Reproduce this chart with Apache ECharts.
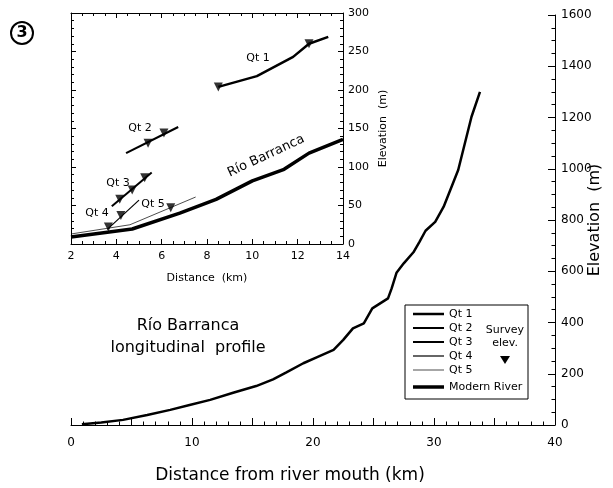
<!DOCTYPE html>
<html><head><meta charset="utf-8">
<script src="https://cdn.jsdelivr.net/npm/echarts@6/dist/echarts.min.js"></script>
<style>html,body{margin:0;padding:0;background:#fff}#c{width:613px;height:488px}</style>
</head><body><div id="c"></div>
<script>
// ---- data ----
const riverMain = [[0.9,3],[2.5,10],[4.3,20],[6.3,39],[8.2,59],[9.8,78],[11.5,98],[13.4,126],[15.3,152],[16.7,178],[17.8,205],[19.2,241],[20.3,264],[21.7,293],[22.5,332],[23.3,377],[24.2,397],[24.9,455],[26.2,494],[26.5,533],[26.9,594],[27.5,631],[28.3,674],[28.8,715],[29.3,758],[30.1,793],[30.8,852],[32.0,995],[33.1,1203],[33.8,1300]];
const riverInset = [[2,9],[4.7,19.5],[6.8,40],[8.4,58],[10.0,82],[11.4,97],[12.5,118],[14,136]];
const qt1Line = [[8.5,204],[10.2,218],[11.8,243],[12.5,260],[13.35,269]];
const qt1Survey = [[8.5,204],[12.5,260]];
const qt2Line = [[4.43,118],[6.73,152]];
const qt2Survey = [[5.4,131],[6.1,144]];
const qt3Line = [[3.8,49],[5.56,93]];
const qt3Survey = [[4.15,58],[4.7,70],[5.25,86]];
const qt4Line = [[3.6,19],[5.0,57]];
const qt4Survey = [[3.65,22],[4.2,37]];
const qt5Line = [[2,13],[4.6,25],[7.5,61]];
const qt5Survey = [[6.4,47]];
const legendNames = ['Qt 1','Qt 2','Qt 3','Qt 4','Qt 5','Modern River'];
const legendWidths = [2.5,2,2,1.2,0.7,3.5];

const FONT = 'DejaVu Sans';
const K = '#000';

function lineSeries(name, data, w, xi, yi){
  return {name, type:'line', data, xAxisIndex:xi, yAxisIndex:yi, symbol:'none', smooth:false,
    lineStyle:{color:K, width:w}, animation:false, z:8};
}
function surveySeries(name, data){
  return {name:name+' survey', type:'scatter', data, xAxisIndex:1, yAxisIndex:1, symbol:'triangle',
    symbolRotate:180, symbolSize:9, itemStyle:{color:K}, animation:false, z:9};
}
const tickStyle = (len)=>({show:true, inside:true, length:len, lineStyle:{color:K, width:1}});
const minor = (n,len)=>({show:true, splitNumber:n, length:len, lineStyle:{color:K, width:1}});
const axLine = {show:true, onZero:false, lineStyle:{color:K, width:1}};
const plain = v=>String(v);

const chart = echarts.init(document.getElementById('c'), null, {renderer:'canvas'});

// legend graphic
const rowY = [314,328,342,356,370,387];
const legendEls = [{type:'rect', shape:{x:405,y:305,width:123,height:94}, style:{fill:'#fff', stroke:K, lineWidth:1}, z:10}];
legendNames.forEach((n,i)=>{
  legendEls.push({type:'line', shape:{x1:413,y1:rowY[i],x2:444,y2:rowY[i]}, style:{stroke:K, lineWidth:legendWidths[i]}, z:11});
  legendEls.push({type:'text', x:449, y:rowY[i], style:{text:n, fontFamily:FONT, fontSize:11, fill:K, textVerticalAlign:'middle'}, z:11});
});
legendEls.push({type:'text', x:505, y:330, style:{text:'Survey', fontFamily:FONT, fontSize:11, fill:K, textAlign:'center', textVerticalAlign:'middle'}, z:11});
legendEls.push({type:'text', x:505, y:343, style:{text:'elev.', fontFamily:FONT, fontSize:11, fill:K, textAlign:'center', textVerticalAlign:'middle'}, z:11});
legendEls.push({type:'polygon', shape:{points:[[500,356],[510,356],[505,364]]}, style:{fill:K}, z:11});

const txt = (s,x,y,size,extra)=>Object.assign({type:'text', x, y, style:{text:s, fontFamily:FONT, fontSize:size, fill:K, textAlign:'center', textVerticalAlign:'middle'}, z:12}, extra||{});

chart.setOption({
  backgroundColor:'#fff',
  animation:false,
  grid:[
    {left:71, right:58, top:15, bottom:63, show:false, containLabel:false, outerBoundsMode:'none'},
    {left:71, right:270, top:13, bottom:244, show:true, backgroundColor:'#fff', borderWidth:0, z:5, containLabel:false, outerBoundsMode:'none'}
  ],
  xAxis:[
    {gridIndex:0, type:'value', min:0, max:40, interval:5, position:'bottom', axisLine:axLine,
     axisTick:tickStyle(7), minorTick:minor(5,3.5), splitLine:{show:false}, minorSplitLine:{show:false},
     axisLabel:{color:K, fontFamily:FONT, fontSize:12, margin:12, formatter:v=>(v%10===0?String(v):'')},
     name:'Distance from river mouth (km)', nameLocation:'middle', nameGap:42, nameMoveOverlap:false,
     nameTextStyle:{color:K, fontFamily:FONT, fontSize:17, padding:[0,46,0,0]}},
    {gridIndex:1, type:'value', min:2, max:14, interval:2, position:'bottom', axisLine:axLine,
     axisTick:tickStyle(5), minorTick:minor(4,3), splitLine:{show:false},
     axisLabel:{color:K, fontFamily:FONT, fontSize:11, margin:7, formatter:plain},
     name:'Distance  (km)', nameLocation:'middle', nameGap:29, nameMoveOverlap:false,
     nameTextStyle:{color:K, fontFamily:FONT, fontSize:11}, z:6},
    {gridIndex:1, type:'value', min:2, max:14, interval:2, position:'top', axisLine:axLine,
     axisTick:tickStyle(5), minorTick:minor(4,3), splitLine:{show:false}, axisLabel:{show:false}, z:6}
  ],
  yAxis:[
    {gridIndex:0, type:'value', min:0, max:1600, interval:200, position:'right', axisLine:axLine,
     axisTick:tickStyle(7), minorTick:minor(4,3.5), splitLine:{show:false},
     axisLabel:{color:K, fontFamily:FONT, fontSize:12, margin:6, formatter:plain},
     name:'Elevation  (m)', nameLocation:'middle', nameRotate:90, nameGap:32, nameMoveOverlap:false,
     nameTextStyle:{color:K, fontFamily:FONT, fontSize:16}},
    {gridIndex:1, type:'value', min:0, max:300, interval:50, position:'right', axisLine:axLine,
     axisTick:tickStyle(5), minorTick:minor(5,3), splitLine:{show:false},
     axisLabel:{color:K, fontFamily:FONT, fontSize:11, margin:5, formatter:plain},
     name:'Elevation  (m)', nameLocation:'middle', nameRotate:90, nameGap:35, nameMoveOverlap:false,
     nameTextStyle:{color:K, fontFamily:FONT, fontSize:11}, z:6},
    {gridIndex:1, type:'value', min:0, max:300, interval:50, position:'left', axisLine:axLine,
     axisTick:tickStyle(5), minorTick:minor(5,3), splitLine:{show:false}, axisLabel:{show:false}, z:6}
  ],
  series:[
    lineSeries('Río Barranca main', riverMain, 2.5, 0, 0),
    lineSeries('Modern River', riverInset, 3.5, 1, 1),
    lineSeries('Qt 1', qt1Line, 2.5, 1, 1),
    lineSeries('Qt 2', qt2Line, 2.2, 1, 1),
    lineSeries('Qt 3', qt3Line, 2, 1, 1),
    lineSeries('Qt 4', qt4Line, 1.2, 1, 1),
    lineSeries('Qt 5', qt5Line, 0.7, 1, 1),
    surveySeries('Qt 1', qt1Survey),
    surveySeries('Qt 2', qt2Survey),
    surveySeries('Qt 3', qt3Survey),
    surveySeries('Qt 4', qt4Survey),
    surveySeries('Qt 5', qt5Survey)
  ],
  graphic:[
    {type:'circle', shape:{cx:22, cy:33, r:11}, style:{fill:'none', stroke:K, lineWidth:2}, z:12},
    txt('3', 22, 33, 16, {style:{text:'3', fontFamily:FONT, fontSize:16, fontWeight:'bold', fill:K, textAlign:'center', textVerticalAlign:'middle'}}),
    txt('Río Barranca', 188, 326, 16),
    txt('longitudinal  profile', 188, 348, 16),
    txt('Qt 1', 258, 58, 11),
    txt('Qt 2', 140, 128, 11),
    txt('Qt 3', 118, 183, 11),
    txt('Qt 4', 97, 213, 11),
    txt('Qt 5', 153, 204, 11),
    txt('Río Barranca', 266, 156, 13, {rotation:25*Math.PI/180})
  ].concat(legendEls)
});
</script></body></html>
